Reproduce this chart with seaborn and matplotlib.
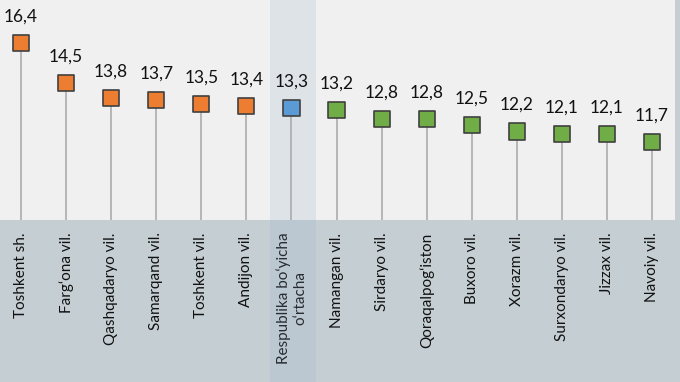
import seaborn as sns
import matplotlib.pyplot as plt
import matplotlib.transforms as mtransforms
from matplotlib.patches import Rectangle
import pandas as pd

regions = ["Toshkent sh.", "Farg‘ona vil.", "Qashqadaryo vil.", "Samarqand vil.",
           "Toshkent vil.", "Andijon vil.", "Respublika bo‘yicha\no‘rtacha",
           "Namangan vil.", "Sirdaryo vil.", "Qoraqalpog‘iston", "Buxoro vil.",
           "Xorazm vil.", "Surxondaryo vil.", "Jizzax vil.", "Navoiy vil."]
values = [16.4, 14.5, 13.8, 13.7, 13.5, 13.4, 13.3,
          13.2, 12.8, 12.8, 12.5, 12.2, 12.1, 12.1, 11.7]
groups = ["above"] * 6 + ["average"] + ["below"] * 8
palette = {"above": "#ED7D31", "average": "#5B9BD5", "below": "#70AD47"}

df = pd.DataFrame({"region": regions, "value": values, "group": groups})

sns.set_style("white")
plt.rcParams['font.family'] = ['Lato', 'DejaVu Sans']

fig = plt.figure(figsize=(6.8, 3.82), dpi=100, facecolor="#c5cfd3")
ax = fig.add_axes([0, 1 - 220 / 382, 675 / 680, 220 / 382])
ax.set_facecolor("#f0f0f0")

base = 8.0
ax.vlines(range(len(values)), base, values, color="#a6a6a6", lw=1.1, zorder=2)
sns.scatterplot(data=df, x="region", y="value", hue="group", palette=palette,
                marker="s", s=135, edgecolor="#404040", linewidth=1.2,
                legend=False, ax=ax, zorder=3)

for i, v in enumerate(values):
    ax.annotate(f"{v:.1f}".replace(".", ","), (i, v), xytext=(0, 19),
                textcoords="offset points", ha="center", va="center",
                fontsize=12.5, color="#111111")

# highlight band for the republic average (runs through the label area)
trans = mtransforms.blended_transform_factory(ax.transData, fig.transFigure)
band = Rectangle((5.53, 0), 1.02, 1, transform=trans, facecolor="#8fa8c8",
                 alpha=0.18, edgecolor="none", clip_on=False, zorder=1)
ax.add_patch(band)

ax.set_xlim(-0.466, 14.51)
ax.set_ylim(base, 18.44)
ax.set_xticks(range(len(regions)))
ax.set_xticklabels(regions, rotation=90, ha="center", va="top",
                   multialignment="center", fontsize=11, color="#111111")
ax.tick_params(axis="x", length=0, pad=9)
ax.set_yticks([])
ax.set_xlabel("")
ax.set_ylabel("")
for s in ax.spines.values():
    s.set_visible(False)

fig.savefig("out.png", dpi=100, facecolor=fig.get_facecolor())
